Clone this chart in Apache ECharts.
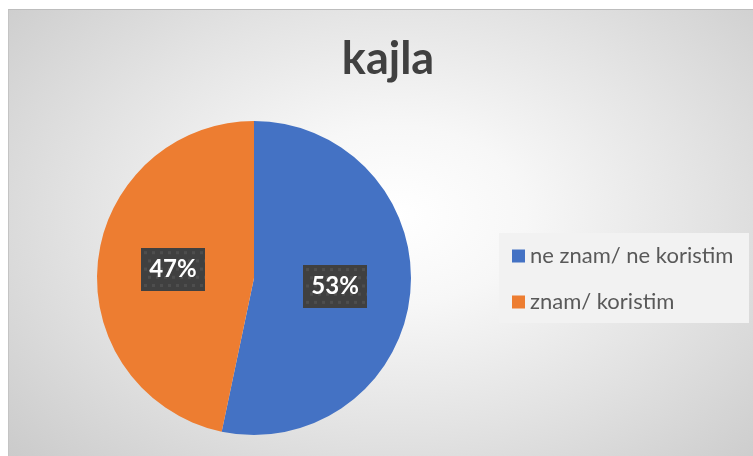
<!DOCTYPE html>
<html>
<head>
<meta charset="utf-8">
<script src="https://cdn.jsdelivr.net/npm/echarts@6/dist/echarts.min.js"></script>
<style>
html,body{margin:0;padding:0;background:#fff;width:753px;height:456px;overflow:hidden;}
#bg{position:absolute;left:8px;top:9px;width:745px;height:447px;
  border-top:1px solid #bdbdbd;border-left:1px solid #c4c4c4;box-sizing:border-box;
  background:radial-gradient(ellipse 70% 80% at 52% 46%, #ffffff 0%, #f7f7f7 25%, #e3e3e3 60%, #cbcbcb 100%);}
#chart{position:absolute;left:0;top:0;width:753px;height:456px;}
</style>
</head>
<body>
<div id="bg"></div>
<div id="chart"></div>
<script>
const title = 'kajla';
const categories = ['ne znam/ ne koristim', 'znam/ koristim'];
const values = [53.3, 46.7];
const colors = ['#4472C4', '#ED7D31'];

function patternCanvas(w, h) {
  const c = document.createElement('canvas');
  c.width = w; c.height = h;
  const ctx = c.getContext('2d');
  ctx.fillStyle = '#404040';
  ctx.fillRect(0, 0, w, h);
  ctx.fillStyle = '#4e4e4e';
  for (let y = 3; y < h; y += 8) {
    for (let x = 3 + ((y / 8) % 2 >= 1 ? 4 : 0); x < w; x += 8) {
      ctx.fillRect(x, y, 3, 3);
    }
  }
  return c;
}
const pat = patternCanvas(64, 42);

const chart = echarts.init(document.getElementById('chart'), null, {renderer: 'canvas'});
chart.setOption({
  animation: false,
  title: {
    text: title,
    left: 383, top: 32, textAlign: 'center',
    textStyle: {fontFamily: 'Lato', fontWeight: 'bold', fontSize: 45, color: '#404040'}
  },
  graphic: [{
    type: 'rect', shape: {x: 499, y: 233, width: 250, height: 90},
    style: {fill: '#f2f2f2'}, z: -1
  }],
  legend: {
    orient: 'vertical', left: 499, top: 233,
    padding: [11, 10, 9, 13],
    itemGap: 22, itemWidth: 13, itemHeight: 13,
    icon: 'rect',
    textStyle: {fontFamily: 'Lato', fontSize: 22, color: '#595959', lineHeight: 24},
    data: categories
  },
  series: [{
    type: 'pie',
    center: [254, 278], radius: 157,
    startAngle: 90, clockwise: true,
    label: {
      show: true, position: 'inside',
      formatter: p => Math.round(p.percent) + '%',
      fontFamily: 'Lato', fontWeight: 'bold', fontSize: 24, color: '#ffffff',
      backgroundColor: {image: pat},
      padding: [9, 0, 9, 0], width: 64, height: 25, align: 'center', verticalAlign: 'middle',
      overflow: 'none',
      lineHeight: 25,
      shadowColor: 'rgba(0,0,0,0.45)', shadowBlur: 5, shadowOffsetX: 3, shadowOffsetY: 3
    },
    labelLine: {show: false},
    emphasis: {disabled: true},
    itemStyle: {borderWidth: 0},
    data: categories.map((c, i) => ({name: c, value: values[i], itemStyle: {color: colors[i]}}))
  }]
});
</script>
</body>
</html>
